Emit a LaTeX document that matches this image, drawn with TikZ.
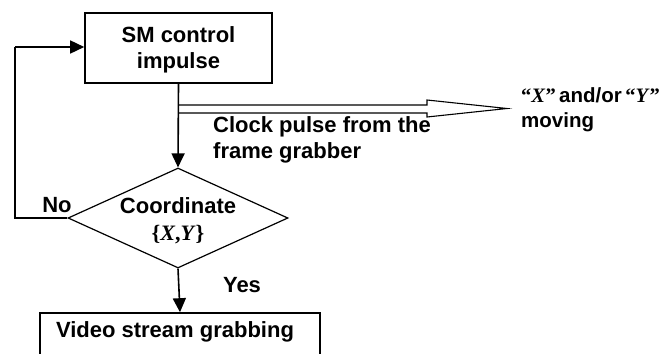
\documentclass[tikz,border=0pt]{standalone}
\usepackage{fontspec}
\setmainfont{Liberation Sans}[BoldFont={Liberation Sans Bold}]
\newfontfamily\tms{Liberation Serif}[BoldFont={Liberation Serif Bold},ItalicFont={Liberation Serif Italic},BoldItalicFont={Liberation Serif Bold Italic}]
\usetikzlibrary{arrows.meta,shapes.geometric}
\tikzset{
  boxnode/.style={draw,line width=1.6pt,rectangle,inner sep=0pt},
  txt/.style={font=\fontsize{22}{26}\selectfont\bfseries,inner sep=0pt},
  flow/.style={line width=1.6pt,-{Triangle[length=14pt,width=13pt]}},
  plain/.style={line width=1.6pt},
}
\begin{document}
\begin{tikzpicture}[x=1pt,y=-1pt]
\useasboundingbox (0,0) rectangle (668,353);
\begin{scope}
\clip (0,0) rectangle (668,353);
% top box
\node[boxnode,minimum width=187pt,minimum height=70pt] (sm) at (178.5,48) {};
\node[txt,align=center] (smt) at (178.5,50) {SM control\\impulse};
% diamond
\node[draw,line width=1.2pt,diamond,inner sep=0pt,minimum width=220pt,minimum height=100pt] (dia) at (178,218) {};
\node[txt,align=center] (diat) at (178,221) {Coordinate\\[1pt]{\tms\{\textit{X},\textit{Y}\}}};
% bottom box
\node[boxnode,minimum width=280pt,minimum height=70pt] (vid) at (180,348) {};
\node[txt] (vidt) at (175,332) {Video stream grabbing};
% double arrow
\coordinate (dtop) at (sm.south |- 0,105);
\coordinate (dbot) at (sm.south |- 0,113);
\draw[line width=1.1pt,fill=white] (dtop) -- (427,105) -- (427,100) -- (507,108.5) -- (427,117) -- (427,113) -- (dbot);
% connectors
\draw[flow] (sm.south) -- (dia.north);
\draw[flow] (dia.south) -- (vid.north);
\coordinate (fbl) at (15,218);
\coordinate (fbt) at (15,47);
\draw[plain] (dia.west) -- (fbl) -- (fbt);
\draw[flow] (fbt) -- (sm.west |- fbt);
% labels
\node[txt,align=left,anchor=north west] (clk) at (213,116) {Clock pulse from the\\frame grabber};
\node[txt,align=left,anchor=north west,font=\fontsize{20.5}{25}\selectfont\bfseries] (mov) at (521,87) {{\tms“\textit{X}”}\,and/or\,{\tms“\textit{Y}”}\\moving};
\node[txt] (no) at (57,205) {No};
\node[txt] (yes) at (242,285) {Yes};
\end{scope}
\end{tikzpicture}
\end{document}
